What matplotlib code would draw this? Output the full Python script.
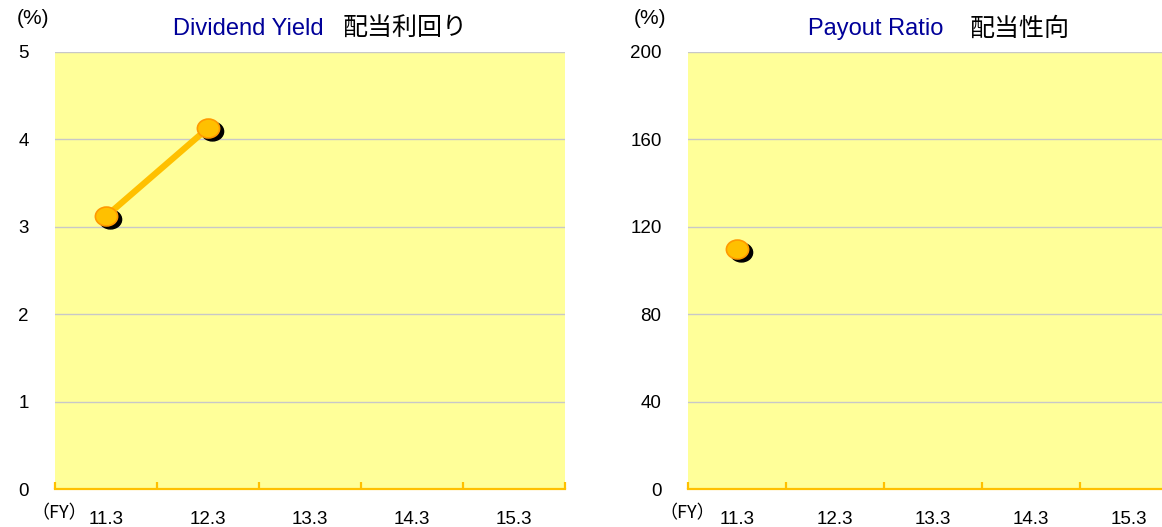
import matplotlib.pyplot as plt
from matplotlib.path import Path
from matplotlib.transforms import offset_copy, Affine2D

plt.rcParams['font.family'] = ['Liberation Sans', 'Noto Sans CJK JP', 'DejaVu Sans']

# fiscal years on the category axis
years = ['11.3', '12.3', '13.3', '14.3', '15.3']

# dividend yield (%) and payout ratio (%), only the first years reported
yield_vals = [3.12, 4.13]
payout_vals = [110.0]

W, H = 1162, 527
fig = plt.figure(figsize=(W / 100, H / 100), dpi=100)

BG = '#FFFF99'
GOLD = '#FFC000'
EDGE = '#FF9900'
GRID = '#C8C8C8'
JP = ['Noto Sans CJK JP', 'DejaVu Sans']

# slightly flattened round marker
oval = Affine2D().scale(1.0, 0.85).transform_path(Path.unit_circle())


def make_panel(rect, vals, ymax, step, title_en, title_jp, en_right, jp_left,
               unit_x, fy_x):
    ax = fig.add_axes(rect)
    ax.set_facecolor(BG)
    ax.set_xlim(0, len(years))
    ax.set_ylim(0, ymax)
    ax.set_yticks(range(0, ymax + 1, step))
    ax.yaxis.grid(True, color=GRID, lw=1)
    ax.set_axisbelow(True)
    for s in ('top', 'left', 'right'):
        ax.spines[s].set_visible(False)
    ax.spines['bottom'].set_color(GOLD)
    ax.spines['bottom'].set_linewidth(1.6)

    # boundaries get the tick marks, centers carry the labels
    ax.set_xticks(range(len(years) + 1))
    ax.set_xticklabels([])
    ax.set_xticks([i + 0.5 for i in range(len(years))], minor=True)
    ax.set_xticklabels(years, minor=True, fontsize=13.5)
    ax.tick_params(axis='x', which='major', direction='in', length=5,
                   width=1.6, color=GOLD)
    ax.tick_params(axis='x', which='minor', length=0, pad=16)
    ax.tick_params(axis='y', length=0, pad=19, labelsize=13.5)
    for lab in ax.get_yticklabels():
        lab.set_va('center_baseline')

    xs = [i + 0.5 for i in range(len(vals))]
    shadow = offset_copy(ax.transData, fig=fig, x=4, y=-3, units='dots')
    ax.plot(xs, vals, color='black', lw=0, marker=oval, ms=16,
            transform=shadow, zorder=3, clip_on=False)
    ax.plot(xs, vals, color=GOLD, lw=4.5, solid_capstyle='butt', zorder=4)
    ax.plot(xs, vals, lw=0, marker=oval, ms=16, mfc=GOLD, mec=EDGE,
            mew=1.2, zorder=5, clip_on=False)

    fig.text(en_right / W, 1 - 29 / H, title_en, color='#000099',
             fontsize=17, ha='right', va='center')
    fig.text(jp_left / W, 1 - 29 / H, title_jp, color='black',
             fontsize=18, ha='left', va='center', family=JP)
    fig.text(unit_x / W, 1 - 19 / H, '(%)', fontsize=15,
             ha='center', va='center')
    fig.text(fy_x / W, 1 - 513 / H, '（FY）', fontsize=13,
             ha='center', va='center', family=JP)
    return ax


make_panel([55 / W, 38 / H, 510 / W, 437 / H], yield_vals, 5, 1,
           'Dividend Yield', '配当利回り', 324, 343, 33, 59)
make_panel([688 / W, 38 / H, 490 / W, 437 / H], payout_vals, 200, 40,
           'Payout Ratio', '配当性向', 943, 970, 650, 687)

fig.savefig('out.png', dpi=100)
